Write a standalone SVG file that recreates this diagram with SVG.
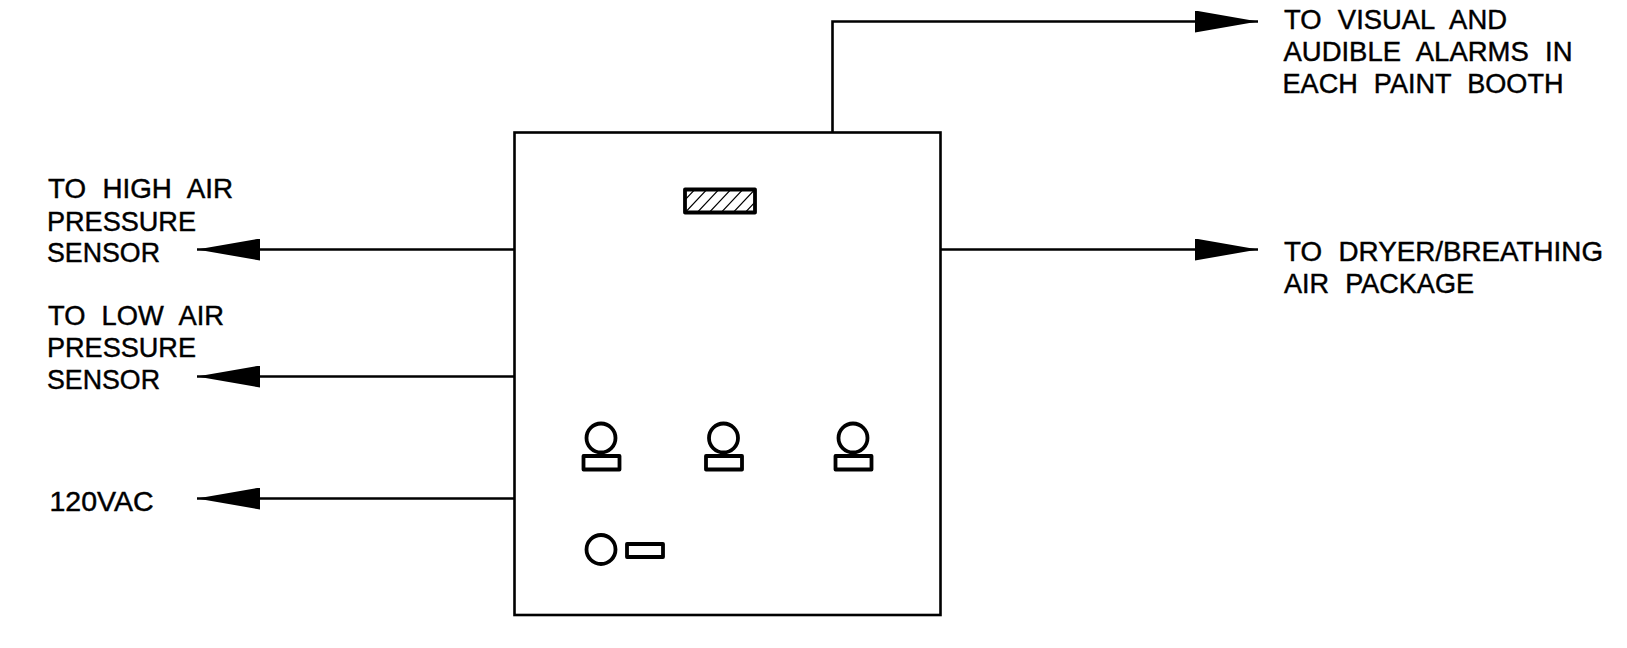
<svg xmlns="http://www.w3.org/2000/svg" width="1627" height="648" viewBox="0 0 1627 648">
<style>
.l{fill:none;stroke:#000;stroke-width:2.6}
.s{fill:none;stroke:#000;stroke-width:3.8;stroke-linejoin:round}
.h{stroke:#000;stroke-width:1.2}
text{font-family:"Liberation Sans",Arial,sans-serif;font-size:28.5px;fill:#000;stroke:#000;stroke-width:.45;word-spacing:9px}
</style>
<defs>
<marker id="a" markerUnits="userSpaceOnUse" markerWidth="63" markerHeight="22" refX="63" refY="11" orient="auto"><path d="M0 0L63 11L0 22Z" fill="#000"/></marker>
<clipPath id="c"><rect x="685" y="189" width="70" height="24"/></clipPath>
</defs>
<rect width="1627" height="648" fill="#fff"/>
<g id="panel">
<rect class="l" x="514.5" y="132.5" width="426" height="482.5"/>
</g>
<g id="display">
<g clip-path="url(#c)" class="h">
<path d="M680 218L712 184M692 218L724 184M704 218L736 184M716 218L748 184M728 218L760 184M740 218L772 184M752 218L784 184M668 218L700 184"/>
</g>
<rect class="s" x="685" y="189.5" width="70" height="23"/>
</g>
<g id="lamp1"><circle class="s" cx="601" cy="438" r="14.5"/><rect class="s" x="583.5" y="456" width="36" height="13.5"/></g>
<g id="lamp2"><circle class="s" cx="723.5" cy="438" r="14.5"/><rect class="s" x="706" y="456" width="36" height="13.5"/></g>
<g id="lamp3"><circle class="s" cx="853" cy="438" r="14.5"/><rect class="s" x="835.5" y="456" width="36" height="13.5"/></g>
<g id="switch"><circle class="s" cx="601" cy="549.5" r="14.5"/><rect class="s" x="627" y="544" width="36" height="13"/></g>
<g id="connectors">
<path class="l" d="M832.5 132V21.5H1258" marker-end="url(#a)"/>
<path class="l" d="M941 249.5H1258" marker-end="url(#a)"/>
<path class="l" d="M514 249.5H197" marker-end="url(#a)"/>
<path class="l" d="M514 376.5H197" marker-end="url(#a)"/>
<path class="l" d="M514 498.5H197" marker-end="url(#a)"/>
</g>
<g id="label-high">
<text x="48" y="198" textLength="185" lengthAdjust="spacingAndGlyphs">TO HIGH AIR</text>
<text x="47" y="230.5" textLength="149" lengthAdjust="spacingAndGlyphs">PRESSURE</text>
<text x="47" y="262" textLength="113" lengthAdjust="spacingAndGlyphs">SENSOR</text>
</g>
<g id="label-low">
<text x="48" y="325" textLength="176" lengthAdjust="spacingAndGlyphs">TO LOW AIR</text>
<text x="47" y="356.5" textLength="149" lengthAdjust="spacingAndGlyphs">PRESSURE</text>
<text x="47" y="389" textLength="113" lengthAdjust="spacingAndGlyphs">SENSOR</text>
</g>
<g id="label-120"><text x="49.5" y="511" textLength="104" lengthAdjust="spacingAndGlyphs">120VAC</text></g>
<g id="label-alarms">
<text x="1284" y="28.5" textLength="223" lengthAdjust="spacingAndGlyphs">TO VISUAL AND</text>
<text x="1283.5" y="61" textLength="289" lengthAdjust="spacingAndGlyphs">AUDIBLE ALARMS IN</text>
<text x="1282.5" y="93" textLength="281" lengthAdjust="spacingAndGlyphs">EACH PAINT BOOTH</text>
</g>
<g id="label-dryer">
<text x="1284" y="261" textLength="319" lengthAdjust="spacingAndGlyphs">TO DRYER/BREATHING</text>
<text x="1284" y="293" textLength="190" lengthAdjust="spacingAndGlyphs">AIR PACKAGE</text>
</g>
</svg>
